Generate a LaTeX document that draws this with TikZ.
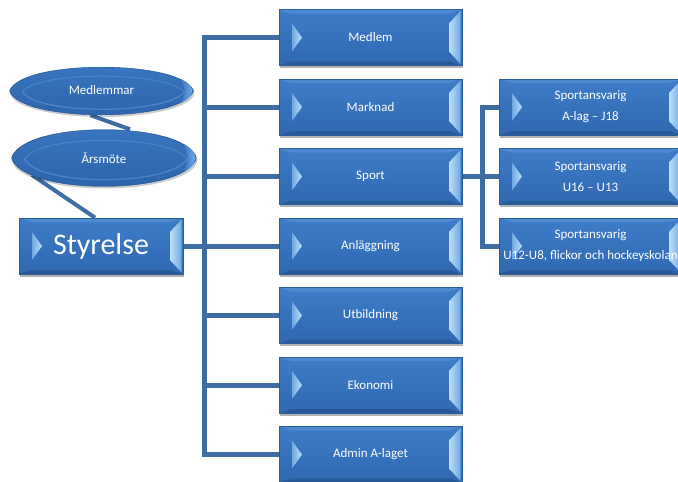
\documentclass[tikz,border=0pt]{standalone}
\usepackage{fontspec}
\setmainfont{Carlito}
\usetikzlibrary{shapes.geometric,shadows,backgrounds}
\definecolor{boxedge}{HTML}{2B5C9B}
\definecolor{facetop}{HTML}{3E7CC8}
\definecolor{facebot}{HTML}{3068B1}
\definecolor{bevtop}{HTML}{4F8AD0}
\definecolor{bevbot}{HTML}{285A99}
\definecolor{bevlite}{HTML}{BFE0FA}
\definecolor{bevmid}{HTML}{6FA8E2}
\definecolor{ellT}{HTML}{3B78C3}
\definecolor{ellB}{HTML}{2C62A8}
\definecolor{ellhi}{HTML}{7FB6EC}
\definecolor{conncol}{HTML}{3E6DA4}
\tikzset{
 bevelbox/.style={rectangle, draw=boxedge, line width=0.7pt, top color=facetop, bottom color=facebot,
  text=white, inner sep=0pt, align=center, minimum height=56pt, font=\fontsize{13}{21}\selectfont,
  drop shadow={shadow xshift=0.8pt, shadow yshift=-2.5pt, opacity=0.3, fill=black},
  path picture={
   \coordinate (pnw) at (path picture bounding box.north west);
   \coordinate (pne) at (path picture bounding box.north east);
   \coordinate (psw) at (path picture bounding box.south west);
   \coordinate (pse) at (path picture bounding box.south east);
   \coordinate (pw) at (path picture bounding box.west);
   \fill[bevtop] (pnw) -- (pne) -- ([shift={(-13pt,-4pt)}]pne) -- ([shift={(13pt,-4pt)}]pnw) -- cycle;
   \fill[bevbot] (psw) -- (pse) -- ([shift={(-13pt,4pt)}]pse) -- ([shift={(13pt,4pt)}]psw) -- cycle;
   \shade[left color=bevlite, right color=bevmid] ([shift={(-13pt,-14pt)}]pne) -- ([shift={(-1.5pt,-1.5pt)}]pne)
      -- ([shift={(-1.5pt,1.5pt)}]pse) -- ([shift={(-13pt,14pt)}]pse) -- cycle;
   \shade[left color=bevmid, right color=bevlite] ([shift={(13pt,-14pt)}]pnw) -- ([shift={(23pt,0pt)}]pw)
      -- ([shift={(13pt,14pt)}]psw) -- cycle;
  }},
 ellnode/.style 2 args={ellipse, minimum width=#1, minimum height=#2, inner sep=0pt, text=white,
  font=\fontsize{13}{15}\selectfont,
  drop shadow={shadow xshift=0.8pt, shadow yshift=-2pt, opacity=0.2, fill=black},
  path picture={
   \coordinate (pL) at (path picture bounding box.west);
   \coordinate (pR) at (path picture bounding box.east);
   \shade[top color=ellT, bottom color=ellB, draw=boxedge, line width=0.8pt]
     (pL) .. controls ([shift={(0.07*#1,0.6667*#2)}]pL) and ([shift={(-0.07*#1,0.6667*#2)}]pR) .. (pR)
     .. controls ([shift={(-0.07*#1,-0.6667*#2)}]pR) and ([shift={(0.07*#1,-0.6667*#2)}]pL) .. (pL) -- cycle;
   \draw[ellhi, opacity=0.35, line width=1.4pt]
     ([shift={(0.07*#1,-0.02*#2)}]pL) .. controls ([shift={(0.15*#1,-0.5*#2)}]pL) and ([shift={(-0.15*#1,-0.5*#2)}]pR) .. ([shift={(-0.05*#1,-0.02*#2)}]pR);
   \draw[ellhi, opacity=0.25, line width=1.2pt]
     ([shift={(0.07*#1,-0.02*#2)}]pL) .. controls ([shift={(0.15*#1,0.42*#2)}]pL) and ([shift={(-0.15*#1,0.42*#2)}]pR) .. ([shift={(-0.05*#1,-0.02*#2)}]pR);
   \shade[left color=ellT, right color=ellhi, opacity=0.85]
     ([shift={(-0.07*#1,0.25*#2)}]pR) .. controls ([shift={(-0.02*#1,0.15*#2)}]pR) .. ([shift={(-0.005*#1,0)}]pR)
     .. controls ([shift={(-0.02*#1,-0.15*#2)}]pR) .. ([shift={(-0.07*#1,-0.25*#2)}]pR)
     .. controls ([shift={(-0.04*#1,0)}]pR) .. cycle;
  }},
 conn/.style={draw=conncol, line width=5pt, line join=miter},
 diag/.style={draw=conncol, line width=4pt}
}
\begin{document}
\begin{tikzpicture}[x=1pt,y=-1pt]
\useasboundingbox (0,0) rectangle (678,482);
% nodes
\node[bevelbox, minimum width=164pt, font=\fontsize{30}{32}\selectfont] (sty) at (101,246) {Styrelse};
\node[bevelbox, minimum width=183pt] (medlem)   at (370.5,37.5)  {Medlem};
\node[bevelbox, minimum width=183pt] (marknad)  at (370.5,107)   {Marknad};
\node[bevelbox, minimum width=183pt] (sport)    at (370.5,176.5) {Sport};
\node[bevelbox, minimum width=183pt] (anl)      at (370.5,246)   {Anläggning};
\node[bevelbox, minimum width=183pt] (utb)      at (370.5,315.5) {Utbildning};
\node[bevelbox, minimum width=183pt] (eko)      at (370.5,385)   {Ekonomi};
\node[bevelbox, minimum width=183pt] (admin)    at (370.5,454.5) {Admin A-laget};
\node[bevelbox, minimum width=183pt] (sa1) at (590.5,107)   {Sportansvarig\\A-lag – J18};
\node[bevelbox, minimum width=183pt] (sa2) at (590.5,176.5) {Sportansvarig\\U16 – U13};
\node[bevelbox, minimum width=183pt] (sa3) at (590.5,246)   {Sportansvarig\\\makebox[0pt]{U12-U8, flickor och hockeyskolan}};
\node[ellnode={184pt}{48pt}] (medm) at (101.5,91) {\raisebox{3pt}{Medlemmar}};
\node[ellnode={185pt}{57pt}] (ars) at (104,158) {Årsmöte};
% connectors
\begin{pgfonlayer}{background}
\fill[white] (0,0) rectangle (678,482);
\coordinate (bus) at (204,0);
\coordinate (rbus) at (482,0);
\coordinate (arsfoot) at ([shift={(-72pt,-17pt)}]ars.center);
\draw[diag] ([xshift=-11pt]medm.south) -- ([xshift=26pt]ars.north);
\draw[diag] (arsfoot) -- ([xshift=-6pt]sty.north);
\draw[conn] (medlem.west) -- (medlem.west -| bus) -- (admin.west -| bus) -- (admin.west);
\foreach \n in {marknad,sport,anl,utb,eko} \draw[conn] (\n.west -| bus) -- (\n.west);
\draw[conn] (sty.east) -- (sty.east -| bus);
\draw[conn] (sa1.west) -- (sa1.west -| rbus) -- (sa3.west -| rbus) -- (sa3.west);
\draw[conn] (sport.east) -- (sa2.west);
\end{pgfonlayer}
\end{tikzpicture}
\end{document}
